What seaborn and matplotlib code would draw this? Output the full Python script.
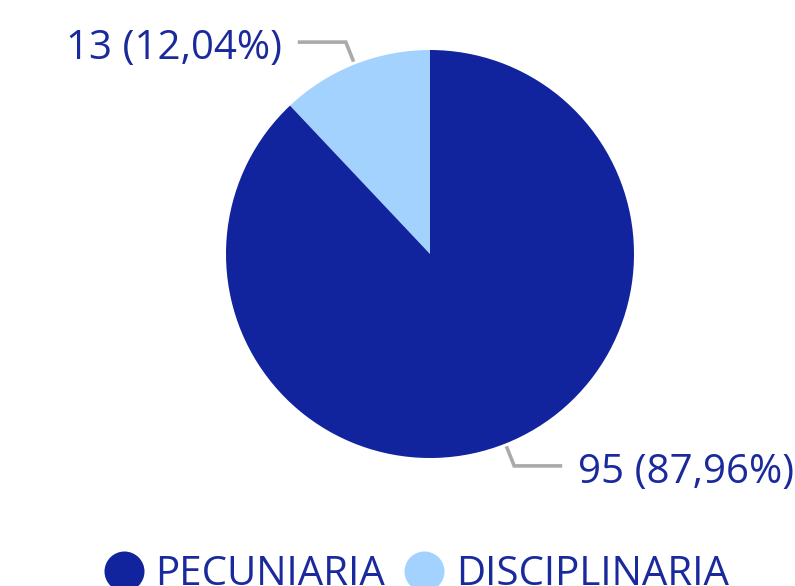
import numpy as np
import seaborn as sns
from matplotlib import pyplot as plt
from matplotlib.lines import Line2D

# datos
categorias = ["DISCIPLINARIA", "PECUNIARIA"]
valores = [13, 95]
colores = ["#A3D2FF", "#12239E"]
orden_leyenda = ["PECUNIARIA", "DISCIPLINARIA"]

sns.set_theme(style="white")
plt.rcParams['font.family'] = ['Open Sans', 'DejaVu Sans']

texto_color = "#1A299C"
linea_color = "#AAAAAA"

fig = plt.figure(figsize=(7.95, 5.86), dpi=100)
ax = fig.add_axes([0, 0, 1, 1])

centro = (430, 332)
radio = 204
wedges, _ = ax.pie(valores, colors=colores, startangle=90, counterclock=True,
                   center=centro, radius=radio, frame=True,
                   wedgeprops=dict(linewidth=0))
ax.set_xlim(0, 795)
ax.set_ylim(0, 586)
ax.set_aspect('equal')
ax.axis('off')

# etiquetas con lineas guia
total = sum(valores)
for w, v in zip(wedges, valores):
    ang = np.deg2rad((w.theta1 + w.theta2) / 2)
    dx, dy = np.cos(ang), np.sin(ang)
    x0, y0 = centro[0] + 207 * dx, centro[1] + 207 * dy
    x1, y1 = centro[0] + 228 * dx, centro[1] + 228 * dy
    lado = np.sign(dx)
    x2 = x1 + 48 * lado
    ax.plot([x0, x1, x2], [y0, y1, y1], color=linea_color, lw=2.6,
            solid_capstyle='butt', solid_joinstyle='miter')
    pct = f"{v / total * 100:.2f}".replace(".", ",")
    ax.text(x2 + 16 * lado, y1 - 17, f"{v} ({pct}%)", color=texto_color,
            fontsize=29, ha='left' if lado > 0 else 'right', va='baseline')

# leyenda
handles = [Line2D([], [], marker='o', ls='', markersize=28.8, markeredgewidth=0,
                  color=colores[categorias.index(c)]) for c in orden_leyenda]
leg = ax.legend(handles, orden_leyenda, loc='lower left', ncol=2, frameon=False,
                bbox_to_anchor=(105 / 795, -9 / 586), borderpad=0, borderaxespad=0,
                handlelength=0.95, handletextpad=0.3, columnspacing=0.5,
                prop={'size': 29})
for t in leg.get_texts():
    t.set_color(texto_color)

fig.savefig("out.png", dpi=100)
